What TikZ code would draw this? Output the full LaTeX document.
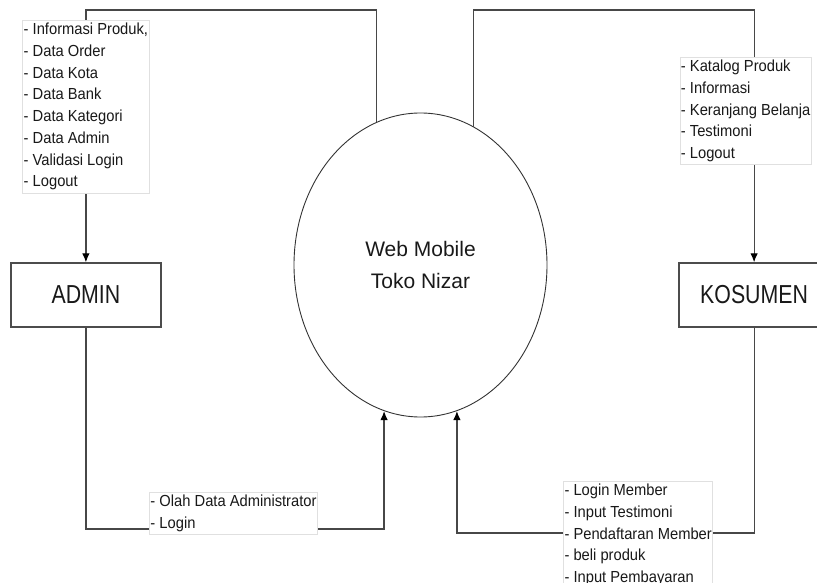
\documentclass[tikz,border=0pt]{standalone}
\usepackage{fontspec}
\setmainfont{Liberation Sans}
\newfontfamily\lblfont[FakeStretch=0.92]{Liberation Sans}
\newfontfamily\boxfont[FakeStretch=0.82]{Liberation Sans}
\usetikzlibrary{shapes.geometric, arrows.meta, positioning, calc}

\begin{document}
\begin{tikzpicture}[x=1pt,y=-1pt]

\tikzstyle{mybox}=[draw=black!70,line width=1.3pt,minimum width=150pt,minimum height=64pt,inner sep=0pt,font=\boxfont\fontsize{26}{30}\selectfont,text=black!90]
\tikzstyle{lbl}=[draw=black!12,line width=0.8pt,fill=white,align=left,inner xsep=1pt,inner ysep=3pt,font=\lblfont\fontsize{16}{21.7}\selectfont,text=black!90]
\tikzstyle{flow}=[draw=black!72,line width=1.2pt,-{Latex[length=9pt,width=7.5pt,color=black]}]

\useasboundingbox (0,0) rectangle (817,583);
\clip (0,0) rectangle (817,583);

% NODES
\node[ellipse,draw=black!80,line width=0.9pt,minimum width=253pt,minimum height=304pt,inner sep=0pt,align=center,font=\fontsize{21}{32}\selectfont,text=black!90](sys) at (420.5,265){Web Mobile\\Toko Nizar};
\node[mybox, left=132pt of sys.west, yshift=-30pt](adm){ADMIN};
\node[mybox, right=131pt of sys.east, yshift=-30pt](kon){KOSUMEN};

% rails
\coordinate(railT) at (0,10);
\coordinate(railL) at (0,529);
\coordinate(railR) at (0,533);

% ARROWS
\draw[flow](sys.107) |- (railT -| adm.north) -- node[lbl,pos=0.383](lsa){- Informasi Produk,\\- Data Order\\- Data Kota\\- Data Bank\\- Data Kategori\\- Data Admin\\- Validasi Login\\- Logout} (adm.north);

\draw[flow](sys.69) |- (railT -| kon.north) -- node[lbl,pos=0.4,xshift=-8.5pt](lsk){- Katalog Produk\\- Informasi\\- Keranjang Belanja\\- Testimoni\\- Logout} (kon.north);

\draw[flow](adm.south) -- (adm.south |- railL) -- node[lbl,pos=0.495,yshift=15.5pt](lad){- Olah Data Administrator\\- Login} (sys.256 |- railL) -- (sys.256);

\draw[flow](kon.south) -- (kon.south |- railR) -- node[lbl,pos=0.39,yshift=-2pt](lkd){- Login Member\\- Input Testimoni\\- Pendaftaran Member\\- beli produk\\- Input Pembayaran} (sys.284 |- railR) -- (sys.284);

\end{tikzpicture}
\end{document}
